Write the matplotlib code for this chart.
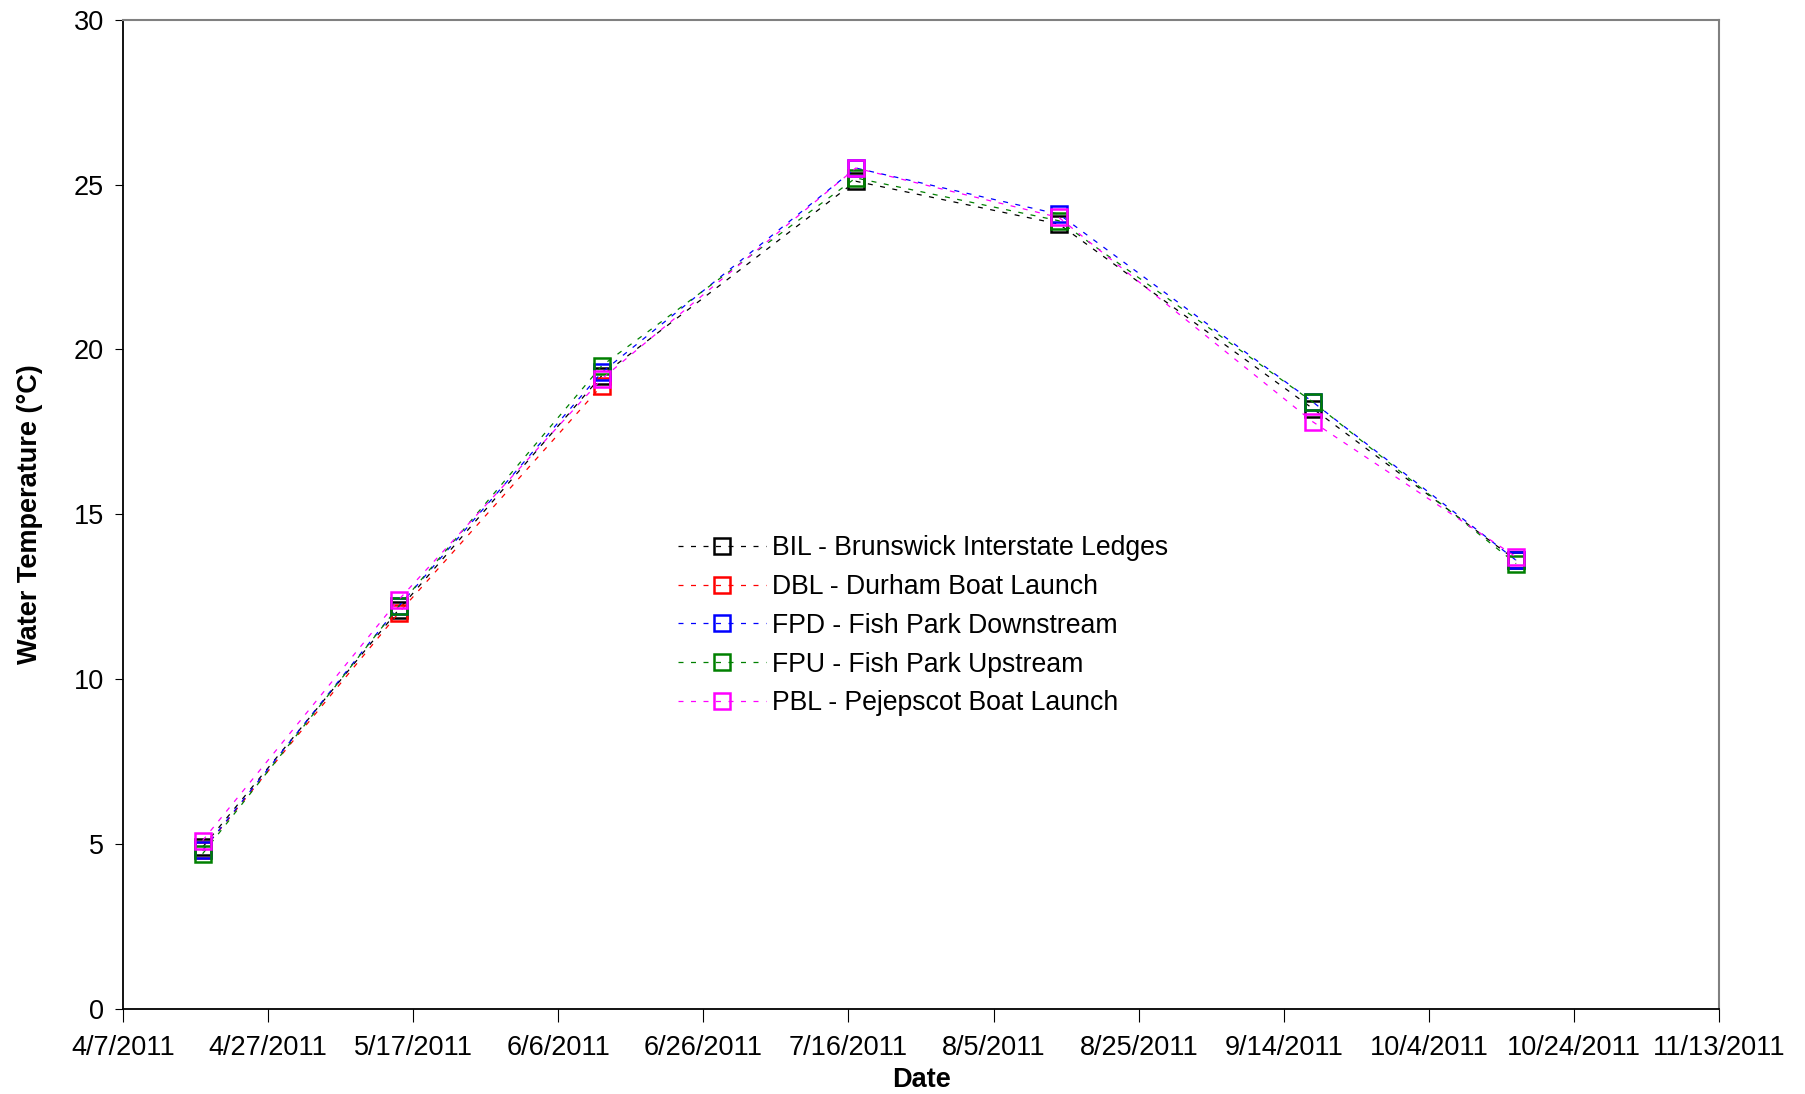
import numpy as np
import pandas as pd
import matplotlib
matplotlib.use('Agg')
import matplotlib.pyplot as plt

plt.rcParams['font.family'] = ['Liberation Sans', 'DejaVu Sans']

# sampling dates and temperatures (deg C) per site
dates_all = pd.to_datetime(['2011-04-18', '2011-05-15', '2011-06-12', '2011-07-17',
                            '2011-08-14', '2011-09-18', '2011-10-16'])
dates_dbl = dates_all[:3]

bil = [4.9, 12.1, 19.2, 25.1, 23.8, 18.2, 13.6]
dbl = [4.8, 12.0, 18.9]
fpd = [4.8, 12.2, 19.3, 25.5, 24.1, 18.4, 13.6]
fpu = [4.7, 12.2, 19.5, 25.2, 23.9, 18.4, 13.5]
pbl = [5.1, 12.4, 19.1, 25.5, 24.0, 17.8, 13.7]

names = ['BIL - Brunswick Interstate Ledges', 'DBL - Durham Boat Launch',
         'FPD - Fish Park Downstream', 'FPU - Fish Park Upstream',
         'PBL - Pejepscot Boat Launch']
colors = ['black', 'red', 'blue', 'green', 'magenta']
series = [(dates_all, bil), (dates_dbl, dbl), (dates_all, fpd), (dates_all, fpu), (dates_all, pbl)]

fig = plt.figure(figsize=(18.06, 10.94), dpi=100)
ax = fig.add_axes([0.068, 0.078, 0.884, 0.904])

for (d, v), c, n in zip(series, colors, names):
    ax.plot(d, v, color=c, ls=(0, (4, 6)), lw=0.9, marker='s', ms=12,
            mfc='none', mec=c, mew=1.8, label=n)

x0 = pd.Timestamp('2011-04-07')
x1 = pd.Timestamp('2011-11-13')
ax.set_xlim(x0, x1)
ax.set_ylim(0, 30)
ticks = pd.date_range(x0, x1, freq='20D')
ax.set_xticks(ticks)
ax.set_xticklabels([f'{t.month}/{t.day}/{t.year}' for t in ticks], fontsize=19.5)
ax.set_yticks(np.arange(0, 31, 5))
ax.tick_params(axis='y', labelsize=19.5, direction='out', length=6, pad=7.5)
ax.tick_params(axis='x', direction='out', length=9, pad=10)

for s in ['top', 'right']:
    ax.spines[s].set_color('#808080')
    ax.spines[s].set_linewidth(1.5)
for s in ['bottom', 'left']:
    ax.spines[s].set_linewidth(1.3)

ax.set_xlabel('Date', fontsize=19.5, fontweight='bold', labelpad=4.5)
ax.set_ylabel('Water Temperature (\u00b0C)', fontsize=19.5, fontweight='bold', labelpad=22)

ax.legend(loc='upper left', bbox_to_anchor=(0.333, 0.503), frameon=False,
          fontsize=19.2, handlelength=3.3, handletextpad=0.2, labelspacing=0.48)

fig.savefig('out.png', dpi=100)
